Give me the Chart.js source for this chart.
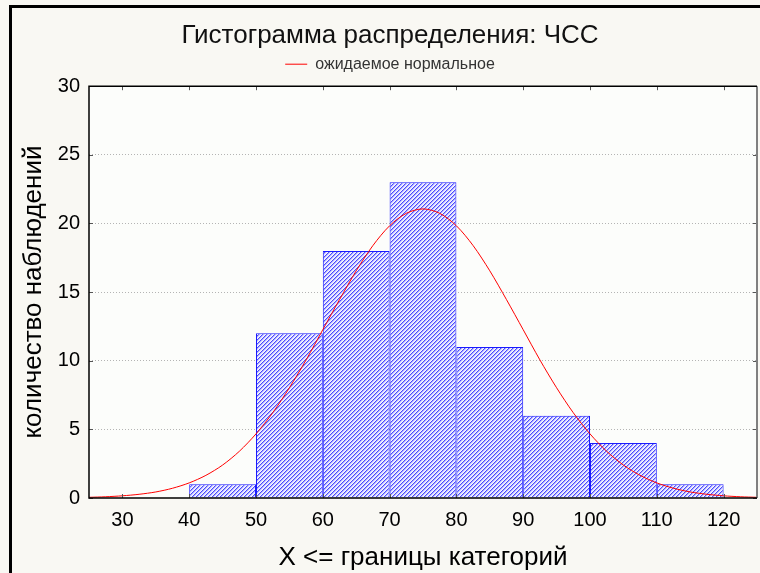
<!DOCTYPE html>
<html>
<head>
<meta charset="utf-8">
<script src="https://cdn.jsdelivr.net/npm/chart.js@4.4.1/dist/chart.umd.min.js"></script>
<style>
html, body { margin: 0; padding: 0; background: #f9f8f3; }
canvas { display: block; }
</style>
</head>
<body>
<canvas id="histChart" width="760" height="573"></canvas>
<script>
// histogram bins (centre of each 10-wide category) and counts
const binMids = [45, 55, 65, 75, 85, 95, 105, 115];
const binCounts = [1, 12, 18, 23, 11, 6, 4, 1];

// x tick labels
const xTicks = [30, 40, 50, 60, 70, 80, 90, 100, 110, 120];

// expected normal curve
const curveX = [25, 27.5, 30, 32.5, 35, 37.5, 40, 42.5, 45, 47.5, 50, 52.5, 55, 57.5, 60, 62.5, 65, 67.5, 70, 72.5,
    75, 77.5, 80, 82.5, 85, 87.5, 90, 92.5, 95, 97.5, 100, 102.5, 105, 107.5, 110, 112.5, 115, 117.5, 120, 122.5, 125];
const curveY = [0.05, 0.09, 0.16, 0.27, 0.44, 0.71, 1.1, 1.65, 2.4, 3.4, 4.67, 6.21, 8.03, 10.06, 12.26, 14.45, 16.55, 18.39, 19.83, 20.74,
    21.06, 20.74, 19.83, 18.39, 16.55, 14.45, 12.26, 10.06, 8.03, 6.21, 4.67, 3.4, 2.4, 1.65, 1.1, 0.71, 0.44, 0.27, 0.16, 0.09, 0.05];

const fontFamily = '"Liberation Sans", Arial, sans-serif';

function makeHatch() {
    let c = document.createElement('canvas');
    c.width = 4;
    c.height = 4;
    let g = c.getContext('2d');
    let cols = ['#4a4aff', '#acacff', '#e2e2ff', '#f8f8ff'];
    for (let x = 0; x < 4; x++) {
        for (let y = 0; y < 4; y++) {
            g.fillStyle = cols[(x + y) % 4];
            g.fillRect(x, y, 1, 1);
        }
    }
    return g.createPattern(c, 'repeat');
}

const backdrop = {
    id: 'backdrop',
    beforeInit(chart) {
        // leave a gap under the legend
        const origFit = chart.legend.fit;
        chart.legend.fit = function () {
            origFit.call(this);
            this.height += 4;
        };
    },
    beforeDraw(chart) {
        const {ctx, chartArea: a, width, height} = chart;
        ctx.save();
        ctx.fillStyle = '#f9f8f3';
        ctx.fillRect(0, 0, width, height);
        ctx.fillStyle = '#fcfdfb';
        ctx.fillRect(a.left, a.top, a.right - a.left, a.bottom - a.top);
        ctx.strokeStyle = '#000';
        ctx.lineWidth = 3;
        ctx.strokeRect(10.5, 6.5, width + 10, height + 10);
        ctx.restore();
    }
};

// plot frame + inward tick marks
const frame = {
    id: 'frame',
    afterDatasetsDraw(chart) {
        const {ctx, chartArea: a, scales} = chart;
        ctx.save();
        ctx.lineWidth = 1;
        ctx.strokeStyle = '#555';
        ctx.beginPath();
        scales.x.ticks.forEach(t => {
            let px = Math.round(scales.x.getPixelForValue(t.value)) + 0.5;
            ctx.moveTo(px, a.bottom); ctx.lineTo(px, a.bottom - 4);
            ctx.moveTo(px, a.top); ctx.lineTo(px, a.top + 4);
        });
        scales.y.ticks.forEach(t => {
            let py = Math.round(scales.y.getPixelForValue(t.value)) + 0.5;
            ctx.moveTo(a.left, py); ctx.lineTo(a.left + 4, py);
            ctx.moveTo(a.right, py); ctx.lineTo(a.right - 4, py);
        });
        ctx.stroke();
        ctx.strokeStyle = '#808080';
        ctx.lineWidth = 2;
        ctx.beginPath();
        ctx.moveTo(a.right, a.top); ctx.lineTo(a.right, a.bottom);
        ctx.stroke();
        ctx.strokeStyle = '#000';
        ctx.lineWidth = 1.5;
        ctx.beginPath();
        ctx.moveTo(a.right, a.top); ctx.lineTo(a.left, a.top); ctx.lineTo(a.left, a.bottom); ctx.lineTo(a.right, a.bottom);
        ctx.stroke();
        ctx.restore();
    }
};

let histChartEl = document.getElementById('histChart').getContext('2d');
let histChart = new Chart(histChartEl, {
    data: {
        datasets: [
            {
                type: 'line',
                label: 'ожидаемое нормальное',
                data: curveX.map((x, i) => ({x: x, y: curveY[i]})),
                borderColor: '#ff0000',
                backgroundColor: '#ff0000',
                borderWidth: 1,
                pointRadius: 0,
                tension: 0.3,
                order: 0
            },
            {
                type: 'bar',
                label: 'ЧСС',
                data: binMids.map((x, i) => ({x: x, y: binCounts[i]})),
                backgroundColor: makeHatch(),
                borderColor: '#1a1aff',
                borderWidth: 1,
                inflateAmount: 0,
                barPercentage: 1,
                categoryPercentage: 1,
                order: 1
            }
        ]
    },
    options: {
        responsive: false,
        animation: false,
        layout: {
            padding: {left: 23, right: 3, top: 2, bottom: 0}
        },
        scales: {
            x: {
                type: 'linear',
                min: 25,
                max: 125,
                offset: false,
                grid: {display: false, drawTicks: false},
                border: {display: false},
                afterBuildTicks: scale => {
                    scale.ticks = xTicks.map(v => ({value: v}));
                },
                ticks: {
                    padding: 10,
                    color: '#000',
                    font: {family: fontFamily, size: 20}
                },
                title: {
                    display: true,
                    text: 'X <= границы категорий',
                    color: '#000',
                    font: {family: fontFamily, size: 26},
                    padding: {top: 0, bottom: 0}
                },
                afterFit: scale => { scale.height = 75; }
            },
            y: {
                min: 0,
                max: 30,
                grid: {
                    drawTicks: false,
                    color: c => (c.tick && (c.tick.value === 0 || c.tick.value === 30)) ? 'rgba(0,0,0,0)' : '#b4b4b4'
                },
                border: {display: false, dash: [1, 2]},
                ticks: {
                    stepSize: 5,
                    padding: 9,
                    color: '#000',
                    font: {family: fontFamily, size: 20}
                },
                title: {
                    display: true,
                    text: 'количество наблюдений',
                    color: '#000',
                    font: {family: fontFamily, size: 26},
                    padding: {top: -5, bottom: 0}
                },
                afterFit: scale => { scale.width = 66; }
            }
        },
        plugins: {
            title: {
                display: true,
                text: 'Гистограмма распределения: ЧСС',
                color: '#111',
                font: {family: fontFamily, size: 26, weight: 'normal'},
                padding: {top: 18, bottom: 0}
            },
            legend: {
                display: true,
                labels: {
                    usePointStyle: true,
                    pointStyle: 'line',
                    pointStyleWidth: 22,
                    padding: 5,
                    color: '#333',
                    font: {family: fontFamily, size: 16},
                    filter: item => item.datasetIndex === 0
                }
            },
            tooltip: {enabled: false}
        }
    },
    plugins: [backdrop, frame]
});
</script>
</body>
</html>
